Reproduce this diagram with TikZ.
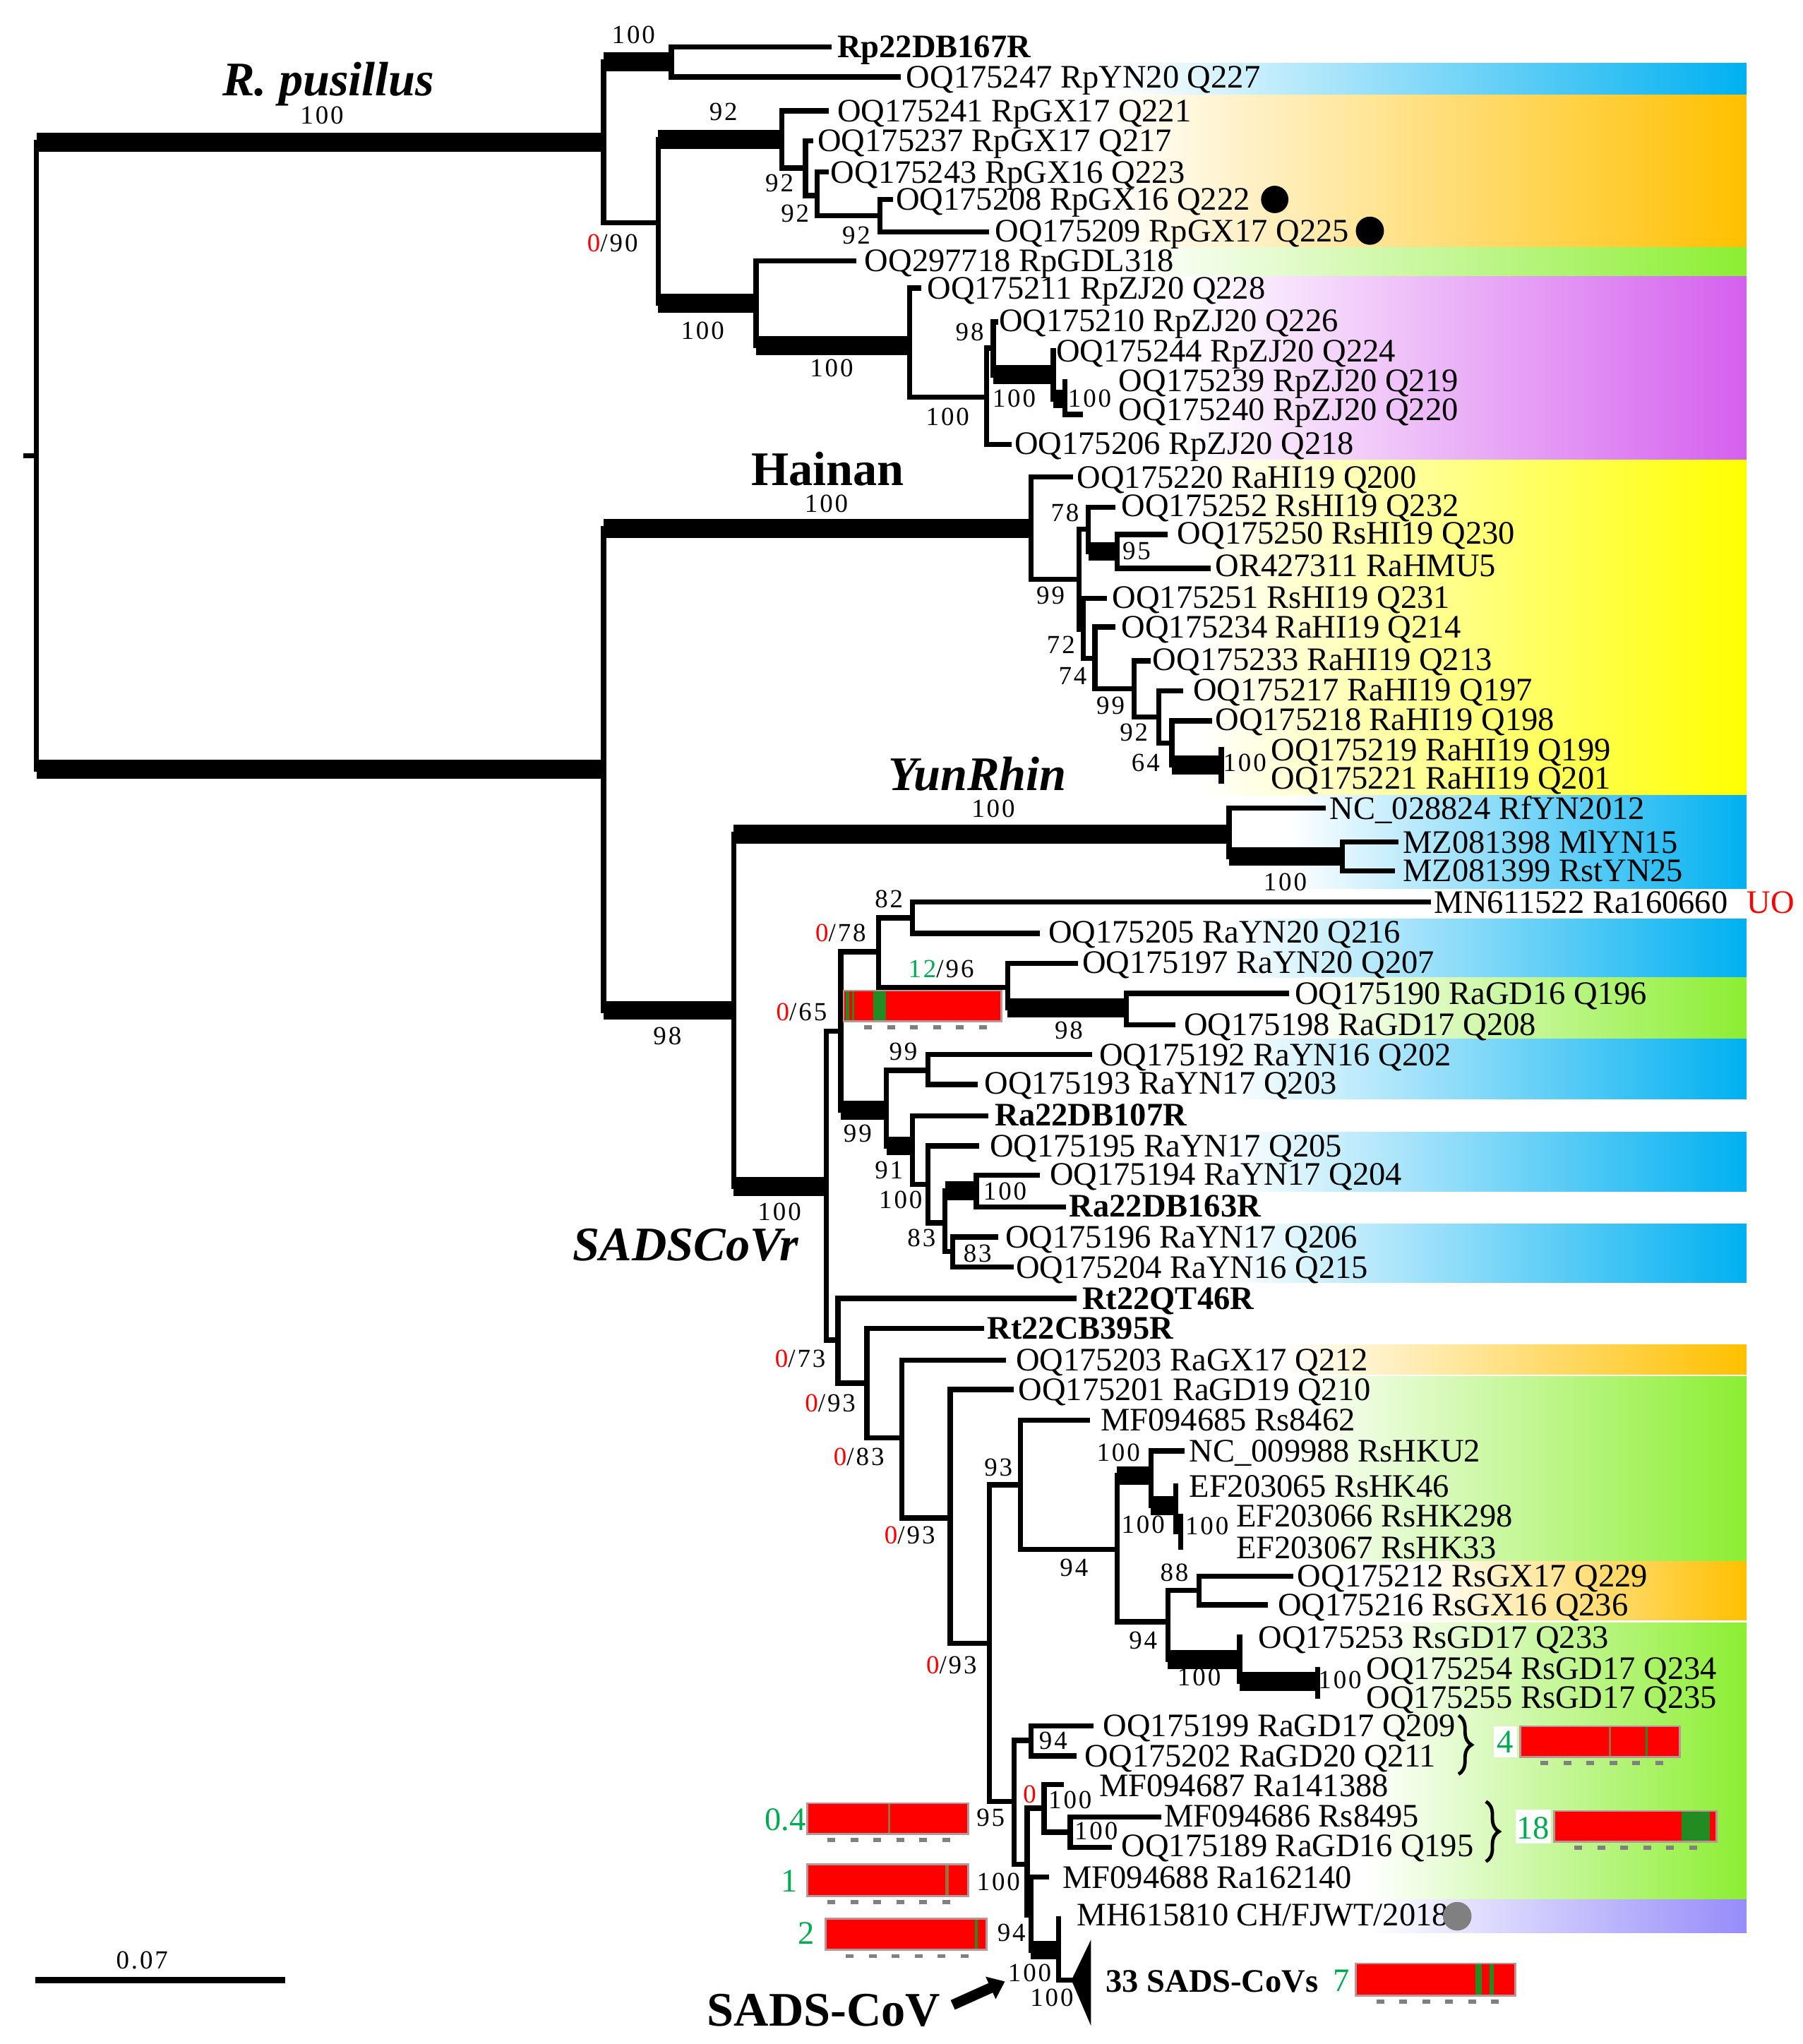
\documentclass[tikz,border=0pt]{standalone}
\usepackage{fontspec}
\setmainfont{Liberation Serif}
\newfontfamily\supfam[LetterSpace=8]{Liberation Serif}
\usetikzlibrary{arrows.meta,decorations.pathreplacing}
\definecolor{cblue}{RGB}{0,176,240}
\definecolor{corange}{RGB}{255,192,0}
\definecolor{cgreen}{RGB}{140,238,50}
\definecolor{cmag}{RGB}{212,96,238}
\definecolor{cyel}{RGB}{255,255,0}
\definecolor{clav}{RGB}{150,140,250}
\definecolor{cred}{RGB}{255,0,0}
\definecolor{cgtext}{RGB}{0,170,80}
\definecolor{bgreen}{RGB}{34,139,34}
\definecolor{bbrown}{RGB}{160,110,60}
\definecolor{bedge}{RGB}{185,150,150}
\definecolor{cgrey}{RGB}{128,128,128}
\newcommand\lf{\fontsize{12.6}{14}\selectfont}
\newcommand\supf{\supfam\fontsize{10}{12}\selectfont}
\newcommand\cladef{\fontsize{18.5}{21}\selectfont\bfseries}
\newcommand\brH[3][thinline]{\draw[#1] (#2 |- #3) -- (#3);}
\newcommand\brV[3]{\draw[thinline] (#1 |- #2) -- (#1 |- #3);}
\newcommand\rbar[4]{%
  \fill[bedge] ({#1-1.5},{#2-1.5}) rectangle ({#3+1.5},{#4+1.5});
  \fill[cred] (#1,#2) rectangle (#3,#4);
  \foreach \k in {0,...,5}{\fill[cgrey] ({#1+15+17.6*\k},{#4+4}) rectangle ++(6,3);}%
}
\begin{document}
\begin{tikzpicture}[x=0.5pt,y=-0.5pt,
  thinline/.style={line width=2pt,line cap=rect},
  thickline/.style={line width=7.25pt,line cap=butt},
  leaf/.style={anchor=west,inner sep=0pt,text height=8.35pt,text depth=0pt,font=\lf},
  leafb/.style={leaf,font=\lf\bfseries},
  sup/.style={anchor=center,inner sep=0pt,text height=7.1pt,text depth=0pt,font=\supf},
  clade/.style={anchor=center,inner sep=0pt,text height=12.3pt,text depth=0pt,font=\cladef},
  gnum/.style={anchor=center,inner sep=0pt,text height=8.4pt,text depth=0pt,font=\lf,text=cgtext},
  band/.style={left color=white}
]
\useasboundingbox (0,0) rectangle (1383,1568);
\fill[white] (0,0) rectangle (1383,1568);
% ---------- bands ----------
\shade[band,right color=cblue] (860,48.4) rectangle (1340,72.6);
\shade[band,right color=corange] (850,72.6) rectangle (1340,189.8);
\shade[band,right color=cgreen] (870,189.8) rectangle (1340,212.3);
\shade[band,right color=cmag] (910,212.3) rectangle (1340,352.6);
\shade[band,right color=cyel] (920,352.6) rectangle (1340,610);
\shade[band,right color=cblue] (990,610) rectangle (1340,681.5);
\shade[band,right color=cblue] (940,704.8) rectangle (1340,749.8);
\shade[band,right color=cgreen] (1000,749.8) rectangle (1340,797);
\shade[band,right color=cblue] (940,797) rectangle (1340,843);
\shade[band,right color=cblue] (940,868.5) rectangle (1340,914);
\shade[band,right color=cblue] (940,938.8) rectangle (1340,984);
\shade[band,right color=corange] (980,1031.5) rectangle (1340,1054.4);
\shade[band,right color=cgreen] (990,1056) rectangle (1340,1197.8);
\shade[band,right color=corange] (1090,1197.8) rectangle (1340,1243);
\shade[band,right color=cgreen] (1050,1245) rectangle (1340,1457);
\shade[band,right color=clav] (1050,1457) rectangle (1340,1482.5);
% ---------- internal nodes ----------
\coordinate (ROOT) at (28,349.5); \coordinate (RS) at (20,349.5);
\coordinate (A) at (463,109); \coordinate (A1) at (515,47.5);
\coordinate (B) at (505,171); \coordinate (C) at (600,107);
\coordinate (D) at (618,129); \coordinate (E) at (627,150);
\coordinate (F) at (675,165.5); \coordinate (G) at (580,232.5);
\coordinate (H) at (698,265); \coordinate (I) at (757,304.5);
\coordinate (K) at (762,267); \coordinate (J) at (808,287.5);
\coordinate (Ln) at (817,306); \coordinate (M) at (463,590);
\coordinate (N) at (791,405.5); \coordinate (O) at (828,444.5);
\coordinate (P2) at (835,406); \coordinate (P1) at (857,423);
\coordinate (Q) at (831,483); \coordinate (R) at (840,505);
\coordinate (W) at (870,528.5); \coordinate (X) at (889,550);
\coordinate (Y) at (899,570); \coordinate (Z) at (937,587);
\coordinate (AA) at (563,775); \coordinate (YR) at (943,640);
\coordinate (YR2) at (1030,657); \coordinate (BB) at (634,910);
\coordinate (CC) at (645,791); \coordinate (EE) at (674,730);
\coordinate (GG) at (700,704); \coordinate (HH) at (773,757.5);
\coordinate (II) at (864,773); \coordinate (FF) at (680,851.5);
\coordinate (JJ) at (712,821); \coordinate (KK) at (700,879);
\coordinate (LL) at (712,908.5); \coordinate (MM) at (725,938);
\coordinate (NN) at (749,913.5); \coordinate (OO) at (731,960);
\coordinate (DD) at (643,1028); \coordinate (EEb) at (665,1061);
\coordinate (FFb) at (692,1103); \coordinate (GGb) at (729,1164.5);
\coordinate (YY) at (759,1260.5); \coordinate (XX) at (783,1139);
\coordinate (PP) at (857,1188.5); \coordinate (QQ) at (883,1132);
\coordinate (SS) at (902,1155); \coordinate (TT) at (906,1175);
\coordinate (RR) at (896,1244); \coordinate (UU) at (920,1220);
\coordinate (VV) at (951,1273); \coordinate (WW) at (1011,1290);
\coordinate (AB) at (778,1382); \coordinate (AC) at (791,1335);
\coordinate (AD) at (788,1430); \coordinate (AE) at (801,1387);
\coordinate (AF) at (821,1405.5); \coordinate (AG) at (791,1469);
\coordinate (AH) at (812,1496); \coordinate (TRI) at (822,1519);
% ---------- leaf tips ----------
\coordinate (t1) at (636,36); \coordinate (t2) at (689,59);
\coordinate (t3) at (634,85); \coordinate (t4) at (622,108);
\coordinate (t5) at (634,132); \coordinate (t6) at (683,153);
\coordinate (t7) at (757,178); \coordinate (t8) at (655,200);
\coordinate (t9) at (705,221); \coordinate (t10) at (764,247);
\coordinate (t11) at (808,269); \coordinate (t12) at (817,293);
\coordinate (t13) at (829,318); \coordinate (t14) at (774,341);
\coordinate (t15) at (821,366); \coordinate (t16) at (854,389);
\coordinate (t17) at (894,410); \coordinate (t18) at (927,436);
\coordinate (t19) at (847,459); \coordinate (t20) at (854,481);
\coordinate (t21) at (881,507); \coordinate (t22) at (906,530);
\coordinate (t23) at (928,553); \coordinate (t24) at (937,575);
\coordinate (t25) at (937,599); \coordinate (t26) at (1015,620);
\coordinate (t27) at (1071,646); \coordinate (t28) at (1068,668);
\coordinate (t29) at (1096,692); \coordinate (t30) at (796,716);
\coordinate (t31) at (825,739); \coordinate (t32) at (987,762);
\coordinate (t33) at (900,786); \coordinate (t34) at (836,809);
\coordinate (t35) at (748,832); \coordinate (t36) at (756,856);
\coordinate (t37) at (749,879); \coordinate (t38) at (796,901.5);
\coordinate (t39) at (816,926); \coordinate (t40) at (764,949);
\coordinate (t41) at (776,972); \coordinate (t42) at (824,996);
\coordinate (t43) at (753,1019); \coordinate (t44) at (770,1043.5);
\coordinate (t45) at (776,1066); \coordinate (t46) at (834,1089.5);
\coordinate (t47) at (907,1113); \coordinate (t48) at (902,1140);
\coordinate (t49) at (906,1163); \coordinate (t50) at (906,1187);
\coordinate (t51) at (990,1209); \coordinate (t52) at (971,1231);
\coordinate (t53) at (951,1256); \coordinate (t54) at (1011,1281);
\coordinate (t55) at (1011,1301); \coordinate (t56) at (837,1324);
\coordinate (t57) at (824,1347); \coordinate (t58) at (814,1369);
\coordinate (t59) at (889,1394); \coordinate (t60) at (851,1417);
\coordinate (t61) at (803,1440); \coordinate (t62) at (812,1472);
% ---------- branches ----------
\brV{ROOT}{A}{M} \brH[thickline]{ROOT}{A} \brH[thickline]{ROOT}{M} \draw[thinline] (RS) -- (ROOT);
\brV{A}{A1}{B} \brH[thickline]{A}{A1} \brH{A}{B}
\brV{A1}{t1}{t2} \brH{A1}{t1} \brH{A1}{t2}
\brV{B}{C}{G} \brH[thickline]{B}{C} \brH[thickline]{B}{G}
\brV{C}{t3}{D} \brH{C}{t3} \brH{C}{D}
\brV{D}{t4}{E} \brH{D}{t4} \brH{D}{E}
\brV{E}{t5}{F} \brH{E}{t5} \brH{E}{F}
\brV{F}{t6}{t7} \brH{F}{t6} \brH{F}{t7}
\brV{G}{t8}{H} \brH{G}{t8} \brH[thickline]{G}{H}
\brV{H}{t9}{I} \brH{H}{t9} \brH{H}{I}
\brV{I}{K}{t14} \brH{I}{K} \brH{I}{t14}
\brV{K}{t10}{J} \brH{K}{t10} \brH[thickline]{K}{J}
\brV{J}{t11}{Ln} \brH[thickline]{J}{Ln}
\brV{Ln}{t12}{t13} \brH{Ln}{t13}
\brV{M}{N}{AA} \brH[thickline]{M}{N} \brH[thickline]{M}{AA}
\brV{N}{t15}{O} \brH{N}{t15} \brH{N}{O}
\brV{O}{P2}{Q} \brH{O}{P2} \brH{O}{Q}
\brV{P2}{t16}{P1} \brH{P2}{t16} \brH[thickline]{P2}{P1}
\brV{P1}{t17}{t18} \brH{P1}{t17} \brH{P1}{t18}
\brV{Q}{t19}{R} \brH{Q}{t19} \brH{Q}{R}
\brV{R}{t20}{W} \brH{R}{t20} \brH{R}{W}
\brV{W}{t21}{X} \brH{W}{t21} \brH{W}{X}
\brV{X}{t22}{Y} \brH{X}{t22} \brH{X}{Y}
\brV{Y}{t23}{Z} \brH{Y}{t23} \brH[thickline]{Y}{Z}
\brV{Z}{t24}{t25}
\brV{AA}{YR}{BB} \brH[thickline]{AA}{YR} \brH[thickline]{AA}{BB}
\brV{YR}{t26}{YR2} \brH{YR}{t26} \brH[thickline]{YR}{YR2}
\brV{YR2}{t27}{t28} \brH{YR2}{t27} \brH{YR2}{t28}
\brV{BB}{CC}{DD} \brH{BB}{CC} \brH{BB}{DD}
\brV{CC}{EE}{FF} \brH{CC}{EE} \brH[thickline]{CC}{FF}
\brV{EE}{GG}{HH} \brH{EE}{GG} \brH{EE}{HH}
\brV{GG}{t29}{t30} \brH{GG}{t29} \brH{GG}{t30}
\brV{HH}{t31}{II} \brH{HH}{t31} \brH[thickline]{HH}{II}
\brV{II}{t32}{t33} \brH{II}{t32} \brH{II}{t33}
\brV{FF}{JJ}{KK} \brH{FF}{JJ} \brH[thickline]{FF}{KK}
\brV{JJ}{t34}{t35} \brH{JJ}{t34} \brH{JJ}{t35}
\brV{KK}{t36}{LL} \brH{KK}{t36} \brH{KK}{LL}
\brV{LL}{t37}{MM} \brH{LL}{t37} \brH{LL}{MM}
\brV{MM}{NN}{OO} \brH[thickline]{MM}{NN} \brH{MM}{OO}
\brV{NN}{t38}{t39} \brH{NN}{t38} \brH{NN}{t39}
\brV{OO}{t40}{t41} \brH{OO}{t40} \brH{OO}{t41}
\brV{DD}{t42}{EEb} \brH{DD}{t42} \brH{DD}{EEb}
\brV{EEb}{t43}{FFb} \brH{EEb}{t43} \brH{EEb}{FFb}
\brV{FFb}{t44}{GGb} \brH{FFb}{t44} \brH{FFb}{GGb}
\brV{GGb}{t45}{YY} \brH{GGb}{t45} \brH{GGb}{YY}
\brV{YY}{XX}{AB} \brH{YY}{XX} \brH{YY}{AB}
\brV{XX}{t46}{PP} \brH{XX}{t46} \brH{XX}{PP}
\brV{PP}{QQ}{RR} \brH[thickline]{PP}{QQ} \brH{PP}{RR}
\brV{QQ}{t47}{SS} \brH{QQ}{t47} \brH[thickline]{QQ}{SS}
\brV{SS}{t48}{TT} \brH{SS}{TT}
\brV{TT}{t49}{t50}
\brV{RR}{UU}{VV} \brH{RR}{UU} \brH[thickline]{RR}{VV}
\brV{UU}{t51}{t52} \brH{UU}{t51} \brH{UU}{t52}
\brV{VV}{t53}{WW} \brH[thickline]{VV}{WW}
\brV{WW}{t54}{t55}
\brV{AB}{AC}{AD} \brH{AB}{AC} \brH{AB}{AD}
\brV{AC}{t56}{t57} \brH{AC}{t56} \brH{AC}{t57}
\brV{AD}{AE}{AG} \brH{AD}{AE} \brH{AD}{AG}
\brV{AE}{t58}{AF} \brH{AE}{t58} \brH{AE}{AF}
\brV{AF}{t59}{t60} \brH{AF}{t59} \brH{AF}{t60}
\brV{AG}{t61}{AH} \brH{AG}{t61} \brH[thickline]{AG}{AH}
\brV{AH}{t62}{TRI} \brH{AH}{TRI}
\coordinate (triT) at (837,1488); \coordinate (triB) at (837,1554);
\fill (TRI) -- (triT) -- (triB) -- cycle;
% ---------- leaf labels ----------
\node[leafb] (n1) at (642,36) {Rp22DB167R};
\node[leaf] (n2) at (695,59) {OQ175247 RpYN20 Q227};
\node[leaf] (n3) at (642,85) {OQ175241 RpGX17 Q221};
\node[leaf] (n4) at (627,108) {OQ175237 RpGX17 Q217};
\node[leaf] (n5) at (637,132) {OQ175243 RpGX16 Q223};
\node[leaf] (n6) at (687,153) {OQ175208 RpGX16 Q222};
\node[leaf] (n7) at (763,177) {OQ175209 RpGX17 Q225};
\node[leaf] (n8) at (663,200) {OQ297718 RpGDL318};
\node[leaf] (n9) at (711,221) {OQ175211 RpZJ20 Q228};
\node[leaf] (n10) at (766,246) {OQ175210 RpZJ20 Q226};
\node[leaf] (n11) at (810,269) {OQ175244 RpZJ20 Q224};
\node[leaf] (n12) at (858,292) {OQ175239 RpZJ20 Q219};
\node[leaf] (n13) at (858,314) {OQ175240 RpZJ20 Q220};
\node[leaf] (n14) at (778,340) {OQ175206 RpZJ20 Q218};
\node[leaf] (n15) at (826,366) {OQ175220 RaHI19 Q200};
\node[leaf] (n16) at (860,388) {OQ175252 RsHI19 Q232};
\node[leaf] (n17) at (903,409) {OQ175250 RsHI19 Q230};
\node[leaf] (n18) at (932,434) {OR427311 RaHMU5};
\node[leaf] (n19) at (853,458) {OQ175251 RsHI19 Q231};
\node[leaf] (n20) at (860,481) {OQ175234 RaHI19 Q214};
\node[leaf] (n21) at (884,506) {OQ175233 RaHI19 Q213};
\node[leaf] (n22) at (915,529) {OQ175217 RaHI19 Q197};
\node[leaf] (n23) at (932,552) {OQ175218 RaHI19 Q198};
\node[leaf] (n24) at (975,575) {OQ175219 RaHI19 Q199};
\node[leaf] (n25) at (975,597) {OQ175221 RaHI19 Q201};
\node[leaf] (n26) at (1020,620) {NC\_028824 RfYN2012};
\node[leaf] (n27) at (1076,646) {MZ081398 MlYN15};
\node[leaf] (n28) at (1076,668) {MZ081399 RstYN25};
\node[leaf] (n29) at (1100,692) {MN611522 Ra160660};
\node[leaf,text=cred] (uo) at (1340,692) {UO};
\node[leaf] (n30) at (804,715) {OQ175205 RaYN20 Q216};
\node[leaf] (n31) at (830,738) {OQ175197 RaYN20 Q207};
\node[leaf] (n32) at (993,762) {OQ175190 RaGD16 Q196};
\node[leaf] (n33) at (908,786) {OQ175198 RaGD17 Q208};
\node[leaf] (n34) at (843,809) {OQ175192 RaYN16 Q202};
\node[leaf] (n35) at (755,831) {OQ175193 RaYN17 Q203};
\node[leafb] (n36) at (763,855) {Ra22DB107R};
\node[leaf] (n37) at (759,879) {OQ175195 RaYN17 Q205};
\node[leaf] (n38) at (805,901) {OQ175194 RaYN17 Q204};
\node[leafb] (n39) at (820,925) {Ra22DB163R};
\node[leaf] (n40) at (771,949) {OQ175196 RaYN17 Q206};
\node[leaf] (n41) at (779,972) {OQ175204 RaYN16 Q215};
\node[leafb] (n42) at (830,996) {Rt22QT46R};
\node[leafb] (n43) at (757,1019) {Rt22CB395R};
\node[leaf] (n44) at (779,1043) {OQ175203 RaGX17 Q212};
\node[leaf] (n45) at (781,1066) {OQ175201 RaGD19 Q210};
\node[leaf] (n46) at (844,1089) {MF094685 Rs8462};
\node[leaf] (n47) at (912,1113) {NC\_009988 RsHKU2};
\node[leaf] (n48) at (912,1140) {EF203065 RsHK46};
\node[leaf] (n49) at (948,1163) {EF203066 RsHK298};
\node[leaf] (n50) at (948,1187) {EF203067 RsHK33};
\node[leaf] (n51) at (995,1209) {OQ175212 RsGX17 Q229};
\node[leaf] (n52) at (980,1231) {OQ175216 RsGX16 Q236};
\node[leaf] (n53) at (965,1256) {OQ175253 RsGD17 Q233};
\node[leaf] (n54) at (1048,1280) {OQ175254 RsGD17 Q234};
\node[leaf] (n55) at (1048,1302) {OQ175255 RsGD17 Q235};
\node[leaf] (n56) at (846,1324) {OQ175199 RaGD17 Q209};
\node[leaf] (n57) at (832,1347) {OQ175202 RaGD20 Q211};
\node[leaf] (n58) at (843,1370) {MF094687 Ra141388};
\node[leaf] (n59) at (893,1393) {MF094686 Rs8495};
\node[leaf] (n60) at (860,1416) {OQ175189 RaGD16 Q195};
\node[leaf] (n61) at (815,1440) {MF094688 Ra162140};
\node[leaf] (n62) at (826,1469) {MH615810 CH/FJWT/2018};
\node[leafb] (n63) at (848,1520) {33 SADS-CoVs};
% ---------- dots ----------
\node[circle,fill=black,inner sep=0pt,minimum size=10.5pt] (dot1) at (978,153) {};
\node[circle,fill=black,inner sep=0pt,minimum size=10.8pt] (dot2) at (1051,177) {};
\node[circle,fill=cgrey,inner sep=0pt,minimum size=11pt] (dot3) at (1118,1470) {};
% ---------- support values ----------
\node[sup] (s1) at (486,26) {100};
\node[sup] (s2) at (247,88) {100};
\node[sup] (s3) at (555,85) {92};
\node[sup] (s4) at (470,186) {\textcolor{cred}{0}/90};
\node[sup] (s5) at (598,140) {92};
\node[sup] (s6) at (610,163) {92};
\node[sup] (s7) at (657,180) {92};
\node[sup] (s8) at (539,253) {100};
\node[sup] (s9) at (638,282) {100};
\node[sup] (s10) at (744,254) {98};
\node[sup] (s11) at (778,305) {100};
\node[sup] (s12) at (836,305) {100};
\node[sup] (s13) at (727,319) {100};
\node[sup] (s14) at (634,386) {100};
\node[sup] (s15) at (817,393) {78};
\node[sup] (s16) at (872,422) {95};
\node[sup] (s17) at (806,456) {99};
\node[sup] (s18) at (814,494) {72};
\node[sup] (s19) at (823,518) {74};
\node[sup] (s20) at (852,541) {99};
\node[sup] (s21) at (870,561.5) {92};
\node[sup] (s22) at (879,584.5) {64};
\node[sup] (s23) at (955,584.5) {100};
\node[sup] (s24) at (762,620) {100};
\node[sup] (s25) at (986,676) {100};
\node[sup] (s26) at (512,794) {98};
\node[sup] (s27) at (598,929) {100};
\node[sup] (s28) at (682,689) {82};
\node[sup] (s29) at (645,715) {\textcolor{cred}{0}/78};
\node[sup] (s30) at (722,742.5) {\textcolor{cgtext}{12}/96};
\node[sup] (s31) at (615,776) {\textcolor{cred}{0}/65};
\node[sup] (s32) at (820,790) {98};
\node[sup] (s33) at (693,806) {99};
\node[sup] (s34) at (658,869) {99};
\node[sup] (s35) at (682,897) {91};
\node[sup] (s36) at (691,920) {100};
\node[sup] (s37) at (771,913.5) {100};
\node[sup] (s38) at (707,949) {83};
\node[sup] (s39) at (750,961) {83};
\node[sup] (s40) at (614,1042) {\textcolor{cred}{0}/73};
\node[sup] (s41) at (637,1076) {\textcolor{cred}{0}/93};
\node[sup] (s42) at (659,1117) {\textcolor{cred}{0}/83};
\node[sup] (s43) at (698,1177) {\textcolor{cred}{0}/93};
\node[sup] (s44) at (730,1277) {\textcolor{cred}{0}/93};
\node[sup] (s45) at (766,1125) {93};
\node[sup] (s46) at (858,1114) {100};
\node[sup] (s47) at (877,1169) {100};
\node[sup] (s48) at (926,1170) {100};
\node[sup] (s49) at (824,1202) {94};
\node[sup] (s50) at (901,1206) {88};
\node[sup] (s51) at (877,1258) {94};
\node[sup] (s52) at (920,1286) {100};
\node[sup] (s53) at (1028,1288) {100};
\node[sup] (s54) at (808,1334.5) {94};
\node[sup,text=cred] (s55) at (790,1376) {0};
\node[sup] (s56) at (821,1380) {100};
\node[sup] (s57) at (841,1404) {100};
\node[sup] (s58) at (760,1394) {95};
\node[sup] (s59) at (766,1443) {100};
\node[sup] (s60) at (776,1482) {94};
\node[sup] (s61) at (790,1513) {100};
\node[sup] (s62) at (807,1532) {100};
% ---------- clade labels ----------
\node[clade] (c1) at (252,61) {\itshape R. pusillus};
\node[clade] (c2) at (635,360) {Hainan};
\node[clade] (c3) at (750,594) {\itshape YunRhin};
\node[clade] (c4) at (526,955) {\itshape SADSCoVr};
\node[clade] (c5) at (632,1542) {SADS-CoV};
\coordinate (arS) at (731,1538); \coordinate (arE) at (771,1520);
\draw[line width=4pt,-{Triangle[length=6pt,width=9pt]}] (arS) -- (arE);
% ---------- recombination bars ----------
\rbar{648}{760.7}{767.5}{782.6}
\fill[bgreen] (649,760.7) rectangle (651.5,782.6);
\fill[bgreen] (653.5,760.7) rectangle (655.5,782.6);
\fill[bgreen] (670,760.7) rectangle (679.5,782.6);
\rbar{1167}{1325}{1288}{1347}
\fill[bbrown] (1234.5,1325) rectangle (1235.8,1347);
\fill[bgreen] (1262.5,1325) rectangle (1264,1347);
\rbar{1193}{1390}{1316}{1412}
\fill[bgreen] (1290,1390) rectangle (1312,1412);
\rbar{620}{1384}{742}{1406}
\fill[bbrown] (681.5,1384) rectangle (682.8,1406);
\rbar{620}{1431}{742}{1453.6}
\fill[bbrown] (725,1431) rectangle (728,1453.6);
\rbar{634}{1472.6}{756}{1495}
\fill[bgreen] (748,1472.6) rectangle (750,1495);
\rbar{1041}{1507}{1162}{1530}
\fill[bgreen] (1132,1507) rectangle (1137,1530);
\fill[bgreen] (1143,1507) rectangle (1146,1530);
% ---------- counts ----------
\fill[white] (1146,1324) rectangle (1164,1348);
\fill[white] (1163,1388) rectangle (1190,1414);
\node[gnum] (g4) at (1155,1336) {4};
\node[gnum] (g18) at (1176,1402) {18};
\node[gnum] (g04) at (602.5,1396) {0.4};
\node[gnum] (g1) at (605.5,1443) {1};
\node[gnum] (g2) at (618.5,1483) {2};
\node[gnum] (g7) at (1029,1519) {7};
% ---------- braces ----------
\coordinate (bA) at (1119,1316); \coordinate (bB) at (1119,1361);
\coordinate (bC) at (1140,1382); \coordinate (bD) at (1140,1428);
\draw[line width=1.3pt,decorate,decoration={brace,amplitude=5pt}] (bA) -- (bB);
\draw[line width=1.3pt,decorate,decoration={brace,amplitude=5pt}] (bC) -- (bD);
% ---------- scale bar ----------
\coordinate (sb1) at (27,1519); \coordinate (sb2) at (219,1519);
\draw[line width=2.3pt] (sb1) -- (sb2);
\node[sup] (sbl) at (109,1503) {0.07};
\end{tikzpicture}
\end{document}
